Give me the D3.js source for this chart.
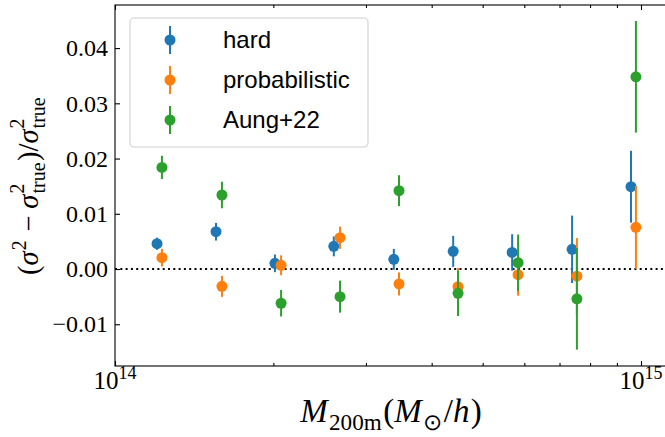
<!DOCTYPE html>
<html>
<head>
<meta charset="utf-8">
<script src="https://cdn.jsdelivr.net/npm/d3@7"></script>
<style>
  body { margin: 0; background: #fff; }
  svg { display: block; }
</style>
</head>
<body>
<div id="chart"></div>
<script>
// halo mass of each bin (blue is drawn slightly to the left)
var massHard = [1.202e14, 1.556e14, 2.014e14, 2.606e14, 3.389e14, 4.395e14, 5.689e14, 7.396e14, 9.572e14];
var massOther = [1.228e14, 1.597e14, 2.069e14, 2.678e14, 3.467e14, 4.489e14, 5.839e14, 7.553e14, 9.78e14];

var hardVals = [0.00458, 0.00675, 0.00103, 0.0041, 0.00175, 0.0032, 0.0030, 0.00357, 0.0149];
var hardErr  = [0.0011, 0.0016, 0.0016, 0.0018, 0.0019, 0.0028, 0.0033, 0.0061, 0.0065];
var probVals = [0.00205, -0.00314, 0.00067, 0.00567, -0.0027, -0.0032, -0.00103, -0.0013, 0.00754];
var probErr  = [0.0016, 0.0019, 0.0018, 0.0020, 0.0021, 0.0034, 0.0038, 0.0069, 0.0075];
var aungVals = [0.0184, 0.0134, -0.0062, -0.0050, 0.01418, -0.0044, 0.00114, -0.0054, 0.0348];
var aungErr  = [0.0021, 0.0024, 0.0024, 0.0029, 0.0028, 0.0041, 0.0051, 0.0092, 0.0101];

var seriesNames = ["hard", "probabilistic", "Aung+22"];
var yTicks = [-0.01, 0.00, 0.01, 0.02, 0.03, 0.04];
var xMajorTicks = [1e14, 1e15];
var xMinorTicks = [2e14, 3e14, 4e14, 5e14, 6e14, 7e14, 8e14, 9e14];
var xTickExp = ["14", "15"];

var colors = ["#1f77b4", "#ff7f0e", "#2ca02c"];
var W = 665, H = 437;
// the right spine falls just outside the picture
var pL = 115, pR = 672, pT = 5, pB = 366;

var svg = d3.select("#chart").append("svg")
    .attr("width", W)
    .attr("height", H);

var x = d3.scaleLog()
    .domain([1e14, Math.pow(10, 14 + (pR - pL) / 526)])
    .range([pL, pR]);
var y = d3.scaleLinear()
    .domain([-0.01756, 0.0478])
    .range([pB, pT]);

var serif = "'Liberation Serif', 'Times New Roman', serif";
var sans = "'Liberation Sans', Arial, sans-serif";

// zero line
svg.append("line")
    .attr("x1", pL).attr("x2", pR)
    .attr("y1", y(0)).attr("y2", y(0))
    .attr("stroke", "#000")
    .attr("stroke-width", 2)
    .attr("stroke-dasharray", "2,3.3");

var series = [
  {name: seriesNames[0], mass: massHard, vals: hardVals, err: hardErr},
  {name: seriesNames[1], mass: massOther, vals: probVals, err: probErr},
  {name: seriesNames[2], mass: massOther, vals: aungVals, err: aungErr}
];

var plot = svg.append("g");
series.forEach(function(s, si) {
  var pts = s.vals.map(function(v, i) { return {m: s.mass[i], v: v, e: s.err[i]}; });
  var g = plot.append("g");
  g.selectAll("line").data(pts).enter().append("line")
      .attr("x1", function(d) { return x(d.m); })
      .attr("x2", function(d) { return x(d.m); })
      .attr("y1", function(d) { return y(d.v - d.e); })
      .attr("y2", function(d) { return y(d.v + d.e); })
      .attr("stroke", colors[si])
      .attr("stroke-width", 2);
  g.selectAll("circle").data(pts).enter().append("circle")
      .attr("cx", function(d) { return x(d.m); })
      .attr("cy", function(d) { return y(d.v); })
      .attr("r", 5.5)
      .attr("fill", colors[si]);
});

// axes, ticks pointing inwards
var axBottom = svg.append("g").attr("transform", "translate(0," + pB + ")")
    .call(d3.axisBottom(x).tickValues(xMajorTicks).tickSize(-5).tickFormat(""));
var axBottomMinor = svg.append("g").attr("transform", "translate(0," + pB + ")")
    .call(d3.axisBottom(x).tickValues(xMinorTicks).tickSize(-3).tickFormat(""));
var axTop = svg.append("g").attr("transform", "translate(0," + pT + ")")
    .call(d3.axisTop(x).tickValues(xMajorTicks).tickSize(-5).tickFormat(""));
var axTopMinor = svg.append("g").attr("transform", "translate(0," + pT + ")")
    .call(d3.axisTop(x).tickValues(xMinorTicks).tickSize(-3).tickFormat(""));
var axLeft = svg.append("g").attr("transform", "translate(" + pL + ",0)")
    .call(d3.axisLeft(y).tickValues(yTicks).tickSize(-5).tickPadding(7).tickFormat(d3.format(".2f")));
var axRight = svg.append("g").attr("transform", "translate(" + pR + ",0)")
    .call(d3.axisRight(y).tickValues(yTicks).tickSize(-5).tickFormat(""));

[axBottom, axBottomMinor, axTop, axTopMinor, axLeft, axRight].forEach(function(a) {
  a.select(".domain").remove();
  a.selectAll(".tick line").attr("stroke", "#000").attr("stroke-width", 1.1);
});
axLeft.selectAll(".tick text")
    .attr("font-family", serif)
    .attr("font-size", 24)
    .attr("fill", "#000");

// frame
svg.append("rect")
    .attr("x", pL).attr("y", pT)
    .attr("width", pR - pL).attr("height", pB - pT)
    .attr("fill", "none")
    .attr("stroke", "#000")
    .attr("stroke-width", 1.1);

// 10^14, 10^15 labels
xMajorTicks.forEach(function(t, i) {
  var lab = svg.append("text")
      .attr("x", x(t)).attr("y", pB + 23)
      .attr("text-anchor", "middle")
      .attr("font-family", serif)
      .attr("font-size", 25);
  lab.append("tspan").text("10");
  lab.append("tspan").attr("dy", -10).attr("font-size", 18).text(xTickExp[i]);
});

// lays out a small formula: base glyph with optional stacked sup/sub
function mathText(g, parts, fs) {
  var cx = 0;
  parts.forEach(function(p) {
    var t = g.append("text")
        .attr("x", cx).attr("y", 0)
        .attr("font-family", serif)
        .attr("font-size", fs)
        .attr("font-style", p.it ? "italic" : "normal")
        .style("white-space", "pre")
        .text(p.t);
    var w = t.node().getComputedTextLength();
    if (p.it) w += fs * 0.04;
    var extra = 0;
    if (p.sup) {
      var s = g.append("text").attr("x", cx + w).attr("y", p.sub ? -fs * 0.5 : -fs * 0.42)
          .attr("font-family", serif).attr("font-size", fs * 0.7).text(p.sup);
      extra = Math.max(extra, s.node().getComputedTextLength());
    }
    if (p.sub) {
      var b = g.append("text").attr("x", cx + w).attr("y", fs * 0.24)
          .attr("font-family", serif).attr("font-size", fs * 0.7).text(p.sub);
      extra = Math.max(extra, b.node().getComputedTextLength());
    }
    cx += w + extra + (extra ? fs * 0.05 : 0);
  });
  g.selectAll("text").attr("transform", "translate(" + (-cx / 2) + ",0)");
  return cx;
}

var xLab = svg.append("g").attr("transform", "translate(391,422)");
mathText(xLab, [
  {t: "M", it: true, sub: "200m"}, {t: "("}, {t: "M", it: true, sub: "\u2299"},
  {t: "/"}, {t: "h", it: true}, {t: ")"}
], 33);

var yLab = svg.append("g").attr("transform", "translate(38," + ((pT + pB) / 2) + ") rotate(-90)");
mathText(yLab, [
  {t: "("}, {t: "\u03c3", it: true, sup: "2"}, {t: " \u2212 "},
  {t: "\u03c3", it: true, sup: "2", sub: "true"}, {t: ")/"},
  {t: "\u03c3", it: true, sup: "2", sub: "true"}
], 28.5);

// legend
var leg = svg.append("g");
leg.append("rect")
    .attr("x", 130).attr("y", 18)
    .attr("width", 238).attr("height", 129)
    .attr("rx", 4)
    .attr("fill", "#fff").attr("fill-opacity", 0.8)
    .attr("stroke", "#d0d0d0").attr("stroke-width", 1.1);
var legY = d3.scalePoint().domain(seriesNames).range([40, 120]);
seriesNames.forEach(function(n, i) {
  var yy = legY(n);
  leg.append("line")
      .attr("x1", 170).attr("x2", 170)
      .attr("y1", yy - 14).attr("y2", yy + 14)
      .attr("stroke", colors[i]).attr("stroke-width", 2);
  leg.append("circle").attr("cx", 170).attr("cy", yy).attr("r", 5.5).attr("fill", colors[i]);
  leg.append("text")
      .attr("x", 223).attr("y", yy + 8)
      .attr("font-family", sans)
      .attr("font-size", 24)
      .attr("fill", "#000")
      .text(n);
});
</script>
</body>
</html>
